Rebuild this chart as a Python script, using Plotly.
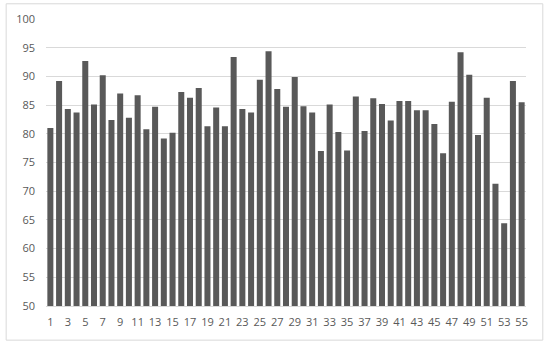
import plotly.graph_objects as go

categories = list(range(1, 56))
values = [81.0, 89.2, 84.3, 83.7, 92.7, 85.1, 90.2, 82.4, 87.0, 82.8,
          86.7, 80.8, 84.7, 79.2, 80.2, 87.3, 86.3, 88.0, 81.3, 84.6,
          81.3, 93.4, 84.3, 83.7, 89.4, 94.4, 87.8, 84.7, 89.9, 84.8,
          83.7, 77.0, 85.1, 80.3, 77.1, 86.5, 80.5, 86.2, 85.2, 82.3,
          85.7, 85.7, 84.1, 84.1, 81.7, 76.6, 85.6, 94.2, 90.3, 79.8,
          86.3, 71.3, 64.4, 89.2, 85.5]
x_ticks = list(range(1, 56, 2))
y_ticks = list(range(50, 101, 5))

fig = go.Figure(go.Bar(x=categories, y=values, marker_color="#595959",
                       marker_line_width=0, base=0))

fig.update_layout(
    width=550, height=343,
    margin=dict(l=46, r=24, t=19, b=37),
    paper_bgcolor="white", plot_bgcolor="white",
    bargap=0.31,
    showlegend=False,
    font=dict(family="Open Sans", size=11, color="#595959"),
    xaxis=dict(range=[0.5, 55.5], tickmode="array", tickvals=x_ticks,
               ticktext=[str(t) for t in x_ticks], showgrid=False,
               showline=True, linecolor="#d9d9d9", linewidth=1,
               ticks="", ticklabelstandoff=6, tickangle=0),
    yaxis=dict(range=[50, 100], tickmode="array", tickvals=y_ticks,
               showgrid=True, gridcolor="#d9d9d9", gridwidth=1,
               zeroline=False, ticks="", ticklabelstandoff=10),
    shapes=[dict(type="rect", xref="paper", yref="paper",
                 x0=-0.083, x1=1.035, y0=-0.119, y1=1.053,
                 line=dict(color="#d9d9d9", width=1), layer="below")],
)

fig.write_html("out.html",
               config={"displayModeBar": False},
               post_script="document.body.style.margin='0';document.body.style.padding='0';")
